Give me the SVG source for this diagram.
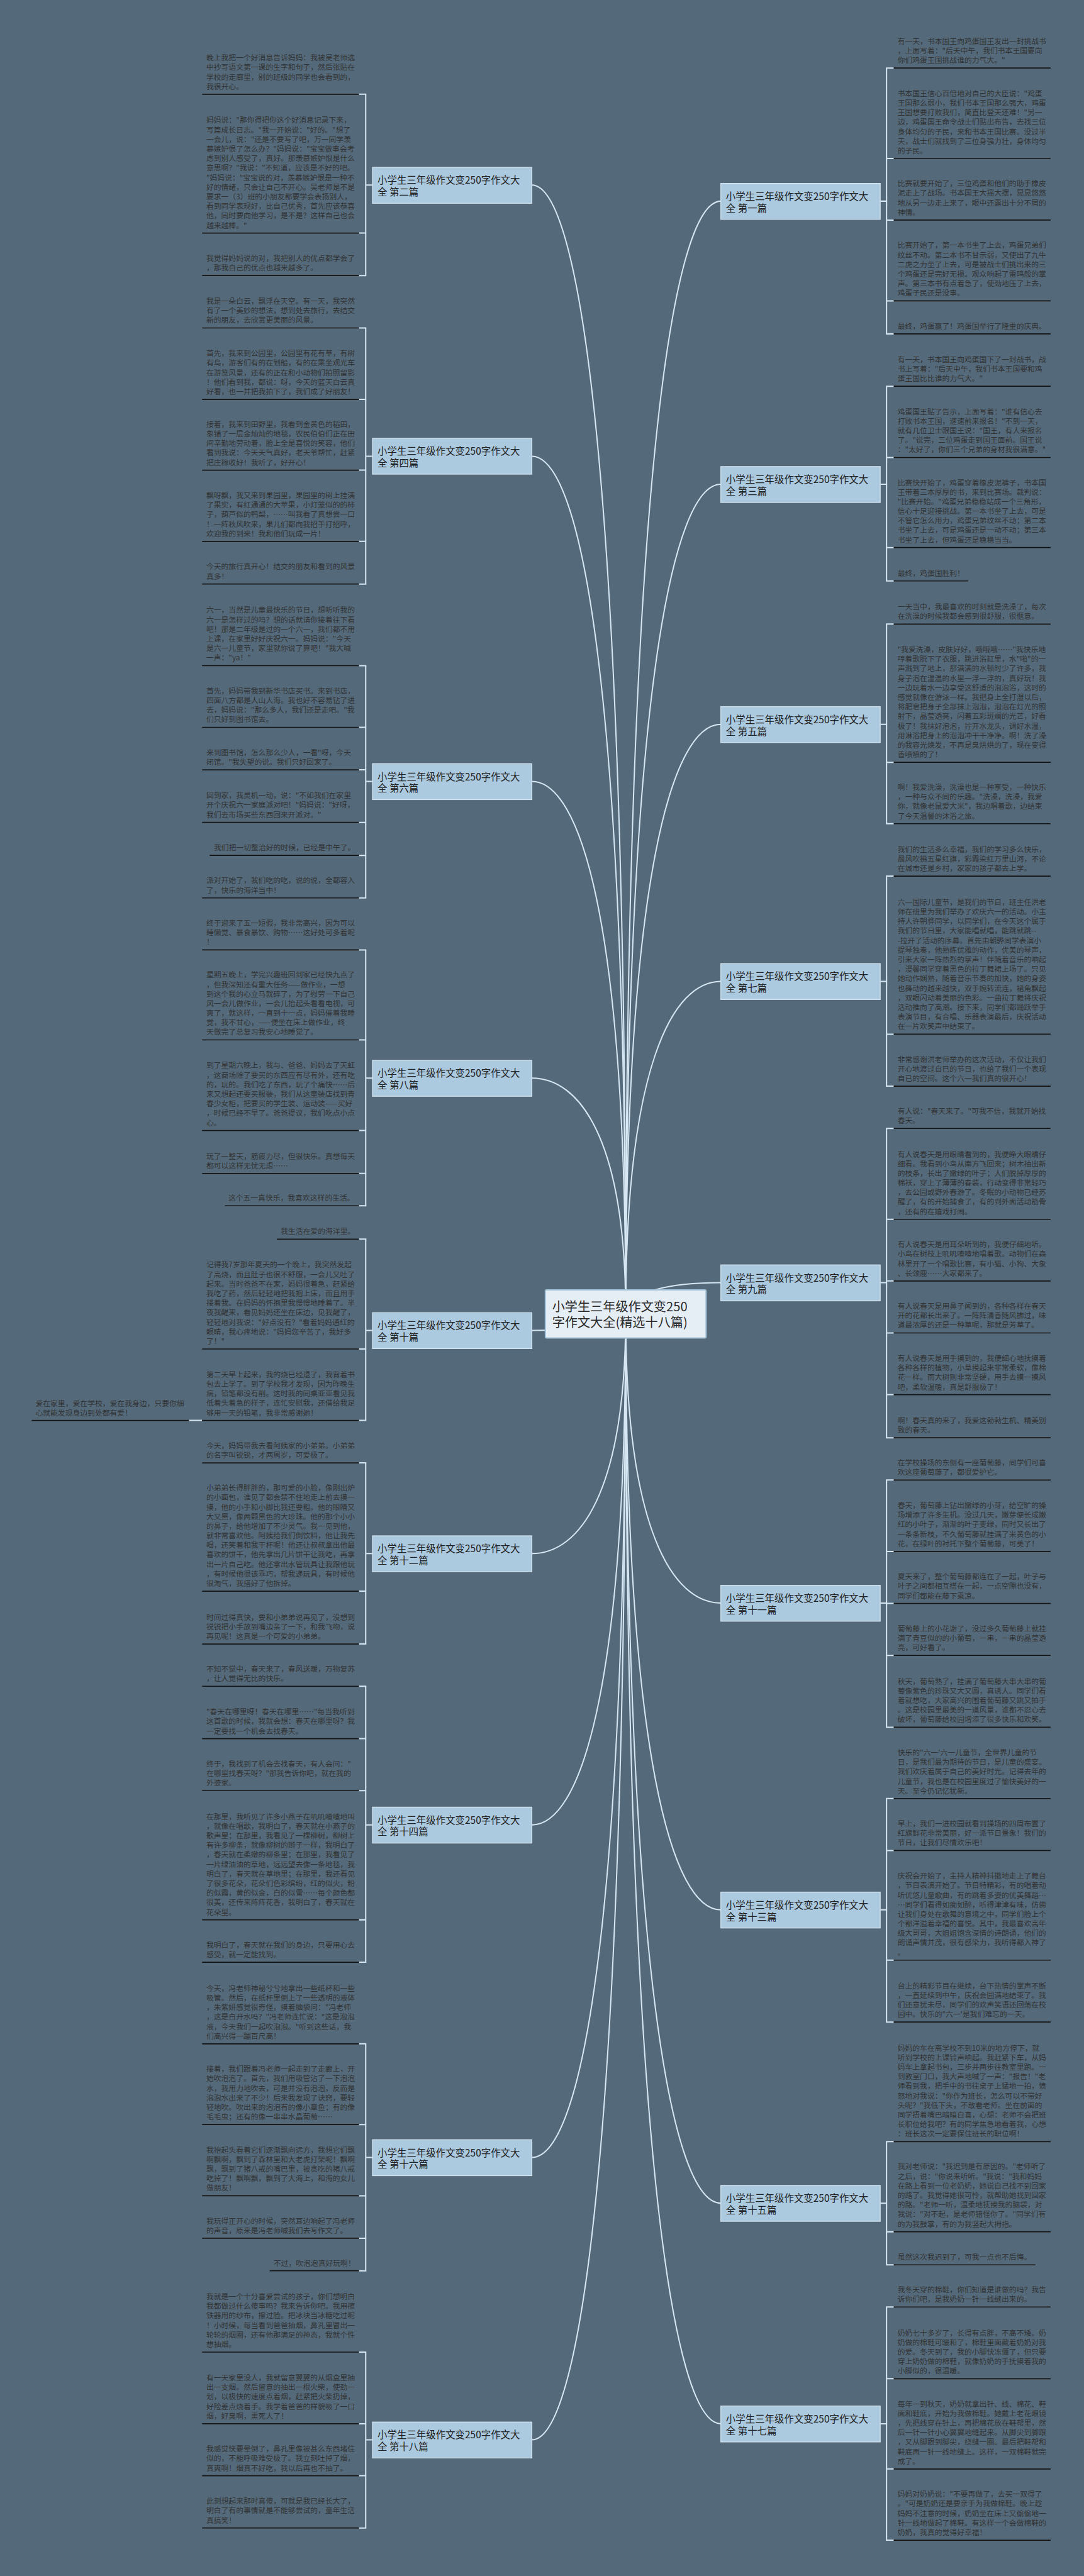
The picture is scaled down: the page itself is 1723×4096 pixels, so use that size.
<svg xmlns="http://www.w3.org/2000/svg" width="1723" height="4096" viewBox="0 0 1723 4096">
<style>
.t{font-family:"Noto Sans CJK SC","Noto Sans",sans-serif;font-size:17.6px;fill:#333}
.u{stroke:#141414;stroke-width:2.5}
.c{stroke:#d6e7f3;stroke-width:3;fill:none}
.n rect{fill:#abc9df;stroke:#d3e3ef;stroke-width:2}
.nt{font-family:"Noto Sans CJK SC","Noto Sans",sans-serif;font-size:23px;fill:#222}
.rt{font-family:"Noto Sans CJK SC","Noto Sans",sans-serif;font-size:30px;fill:#2a2a2a}
</style>
<rect width="1723" height="4096" fill="#546a7b"/>
<g transform="scale(0.672)">
<g id="connectors">
<path class="c" d="M1258,438 C1369,438 1480,1106 1480,3110"/>
<path class="c" d="M1258,1079.5 C1369,1079.5 1480,1587 1480,3110"/>
<path class="c" d="M1258,1849 C1369,1849 1480,2164 1480,3110"/>
<path class="c" d="M1258,2551 C1369,2551 1480,2691 1480,3110"/>
<path class="c" d="M1258,3148 C1369,3148 1480,3138.5 1480,3110"/>
<path class="c" d="M1258,3676 C1369,3676 1480,3534.5 1480,3110"/>
<path class="c" d="M1258,4318 C1369,4318 1480,4016 1480,3110"/>
<path class="c" d="M1258,5105 C1369,5105 1480,4606 1480,3110"/>
<path class="c" d="M1258,5773 C1369,5773 1480,5107 1480,3110"/>
<path class="c" d="M1705,476 C1592.5,476 1480,1134.5 1480,3110"/>
<path class="c" d="M1705,1146 C1592.5,1146 1480,1637 1480,3110"/>
<path class="c" d="M1705,1714 C1592.5,1714 1480,2063 1480,3110"/>
<path class="c" d="M1705,2322 C1592.5,2322 1480,2519 1480,3110"/>
<path class="c" d="M1705,3035 C1592.5,3035 1480,3054 1480,3110"/>
<path class="c" d="M1705,3793 C1592.5,3793 1480,3622 1480,3110"/>
<path class="c" d="M1705,4519 C1592.5,4519 1480,4167 1480,3110"/>
<path class="c" d="M1705,5213 C1592.5,5213 1480,4687 1480,3110"/>
<path class="c" d="M1705,5735 C1592.5,5735 1480,5079 1480,3110"/>
<path class="c" d="M849,223 H865 V652 H849 M849,551.5 H865 M865,438 H881"/>
<path class="c" d="M849,776 H865 V1382 H849 M849,945 H865 M849,1112.5 H865 M849,1281 H865 M865,1079.5 H881"/>
<path class="c" d="M849,1575 H865 V2124.6 H849 M849,1721 H865 M849,1821.5 H865 M849,1946 H865 M849,2024 H865 M865,1849 H881"/>
<path class="c" d="M849,2247.6 H865 V2853 H849 M849,2460.6 H865 M849,2675 H865 M849,2776.5 H865 M865,2551 H881"/>
<path class="c" d="M849,2932 H865 V3361 H849 M849,3192 H865 M865,3148 H881 M447,3361 H478"/>
<path class="c" d="M849,3461.4 H865 V3890 H849 M849,3765 H865 M865,3676 H881"/>
<path class="c" d="M849,3990 H865 V4643 H849 M849,4114 H865 M849,4237 H865 M849,4542.6 H865 M865,4318 H881"/>
<path class="c" d="M849,4836 H865 V5373 H849 M849,5027 H865 M849,5195.6 H865 M849,5296 H865 M865,5105 H881"/>
<path class="c" d="M849,5565.5 H865 V5981.6 H849 M849,5735 H865 M849,5858 H865 M865,5773 H881"/>
<path class="c" d="M2114,161 H2097 V790 H2114 M2097,375 H2114 M2097,520.7 H2114 M2097,712 H2114 M2082,476 H2097"/>
<path class="c" d="M2114,914 H2097 V1374.6 H2114 M2097,1082.6 H2114 M2097,1295.7 H2114 M2082,1146 H2097"/>
<path class="c" d="M2114,1476.7 H2097 V1949 H2114 M2097,1803.8 H2114 M2082,1714 H2097"/>
<path class="c" d="M2114,2073 H2097 V2570 H2114 M2097,2447 H2114 M2082,2322 H2097"/>
<path class="c" d="M2114,2670 H2097 V3402 H2114 M2097,2885 H2114 M2097,3031 H2114 M2097,3154 H2114 M2097,3300 H2114 M2082,3035 H2097"/>
<path class="c" d="M2114,3502 H2097 V4087 H2114 M2097,3671 H2114 M2097,3794 H2114 M2097,3917 H2114 M2082,3793 H2097"/>
<path class="c" d="M2114,4255.6 H2097 V4784.5 H2114 M2097,4378.6 H2114 M2097,4638 H2114 M2082,4519 H2097"/>
<path class="c" d="M2114,5067.5 H2097 V5359 H2114 M2097,5280.7 H2114 M2082,5213 H2097"/>
<path class="c" d="M2114,5458.7 H2097 V6010.5 H2114 M2097,5628.5 H2114 M2097,5842 H2114 M2082,5735 H2097"/>
</g>
<g id="root"><rect x="1290" y="3052" width="380" height="114" rx="3" fill="#e6eef5" stroke="#a3c2d8" stroke-width="3"/><text class="rt" x="1306" y="3102">小学生三年级作文变250</text><text class="rt" x="1306" y="3140">字作文大全(精选十八篇)</text></g>
<g id="b2" class="n"><rect x="881" y="396" width="377" height="85"/><text class="nt" x="893" y="435">小学生三年级作文变250字作文大</text><text class="nt" x="893" y="463">全 第二篇</text></g>
<g id="b4" class="n"><rect x="881" y="1037" width="377" height="85"/><text class="nt" x="893" y="1076">小学生三年级作文变250字作文大</text><text class="nt" x="893" y="1104">全 第四篇</text></g>
<g id="b6" class="n"><rect x="881" y="1807" width="377" height="85"/><text class="nt" x="893" y="1846">小学生三年级作文变250字作文大</text><text class="nt" x="893" y="1874">全 第六篇</text></g>
<g id="b8" class="n"><rect x="881" y="2509" width="377" height="85"/><text class="nt" x="893" y="2548">小学生三年级作文变250字作文大</text><text class="nt" x="893" y="2576">全 第八篇</text></g>
<g id="b10" class="n"><rect x="881" y="3106" width="377" height="85"/><text class="nt" x="893" y="3145">小学生三年级作文变250字作文大</text><text class="nt" x="893" y="3173">全 第十篇</text></g>
<g id="b12" class="n"><rect x="881" y="3634" width="377" height="85"/><text class="nt" x="893" y="3673">小学生三年级作文变250字作文大</text><text class="nt" x="893" y="3701">全 第十二篇</text></g>
<g id="b14" class="n"><rect x="881" y="4276" width="377" height="85"/><text class="nt" x="893" y="4315">小学生三年级作文变250字作文大</text><text class="nt" x="893" y="4343">全 第十四篇</text></g>
<g id="b16" class="n"><rect x="881" y="5063" width="377" height="85"/><text class="nt" x="893" y="5102">小学生三年级作文变250字作文大</text><text class="nt" x="893" y="5130">全 第十六篇</text></g>
<g id="b18" class="n"><rect x="881" y="5731" width="377" height="85"/><text class="nt" x="893" y="5770">小学生三年级作文变250字作文大</text><text class="nt" x="893" y="5798">全 第十八篇</text></g>
<g id="b1" class="n"><rect x="1705" y="434" width="377" height="85"/><text class="nt" x="1717" y="473">小学生三年级作文变250字作文大</text><text class="nt" x="1717" y="501">全 第一篇</text></g>
<g id="b3" class="n"><rect x="1705" y="1104" width="377" height="85"/><text class="nt" x="1717" y="1143">小学生三年级作文变250字作文大</text><text class="nt" x="1717" y="1171">全 第三篇</text></g>
<g id="b5" class="n"><rect x="1705" y="1672" width="377" height="85"/><text class="nt" x="1717" y="1711">小学生三年级作文变250字作文大</text><text class="nt" x="1717" y="1739">全 第五篇</text></g>
<g id="b7" class="n"><rect x="1705" y="2280" width="377" height="85"/><text class="nt" x="1717" y="2319">小学生三年级作文变250字作文大</text><text class="nt" x="1717" y="2347">全 第七篇</text></g>
<g id="b9" class="n"><rect x="1705" y="2993" width="377" height="85"/><text class="nt" x="1717" y="3032">小学生三年级作文变250字作文大</text><text class="nt" x="1717" y="3060">全 第九篇</text></g>
<g id="b11" class="n"><rect x="1705" y="3751" width="377" height="85"/><text class="nt" x="1717" y="3790">小学生三年级作文变250字作文大</text><text class="nt" x="1717" y="3818">全 第十一篇</text></g>
<g id="b13" class="n"><rect x="1705" y="4477" width="377" height="85"/><text class="nt" x="1717" y="4516">小学生三年级作文变250字作文大</text><text class="nt" x="1717" y="4544">全 第十三篇</text></g>
<g id="b15" class="n"><rect x="1705" y="5171" width="377" height="85"/><text class="nt" x="1717" y="5210">小学生三年级作文变250字作文大</text><text class="nt" x="1717" y="5238">全 第十五篇</text></g>
<g id="b17" class="n"><rect x="1705" y="5693" width="377" height="85"/><text class="nt" x="1717" y="5732">小学生三年级作文变250字作文大</text><text class="nt" x="1717" y="5760">全 第十七篇</text></g>

<g id="L2a"><text class="t" x="488" y="143.2"><tspan x="488">晚上我把一个好消息告诉妈妈：我被吴老师选</tspan><tspan x="488" dy="22.6">中抄写语文第一课的生字和句子，然后张贴在</tspan><tspan x="488" dy="22.6">学校的走廊里，别的班级的同学也会看到的，</tspan><tspan x="488" dy="22.6">我很开心。</tspan></text><line class="u" x1="478" y1="223" x2="849" y2="223"/></g>
<g id="L2b"><text class="t" x="488" y="290.9"><tspan x="488">妈妈说："那你得把你这个好消息记录下来，</tspan><tspan x="488" dy="22.6">写篇成长日志。"我一开始说："好的。"想了</tspan><tspan x="488" dy="22.6">一会儿，说："还是不要写了吧，万一同学羡</tspan><tspan x="488" dy="22.6">慕嫉妒恨了怎么办？"妈妈说："宝宝做事会考</tspan><tspan x="488" dy="22.6">虑到别人感受了，真好。那羡慕嫉妒恨是什么</tspan><tspan x="488" dy="22.6">意思啊？"我说："不知道，应该是不好的吧。</tspan><tspan x="488" dy="22.6">"妈妈说："宝宝说的对，羡慕嫉妒恨是一种不</tspan><tspan x="488" dy="22.6">好的情绪，只会让自己不开心。吴老师是不是</tspan><tspan x="488" dy="22.6">要求一（3）班的小朋友都要学会表扬别人，</tspan><tspan x="488" dy="22.6">看到同学表现好，比自己优秀，首先应该恭喜</tspan><tspan x="488" dy="22.6">他，同时要向他学习，是不是？这样自己也会</tspan><tspan x="488" dy="22.6">越来越棒。"</tspan></text><line class="u" x1="478" y1="551.5" x2="849" y2="551.5"/></g>
<g id="L2c"><text class="t" x="488" y="617.4"><tspan x="488">我觉得妈妈说的对，我把别人的优点都学会了</tspan><tspan x="488" dy="22.6">，那我自己的优点也越来越多了。</tspan></text><line class="u" x1="478" y1="652" x2="849" y2="652"/></g>

<g id="L4a"><text class="t" x="488" y="718.8"><tspan x="488">我是一朵白云，飘浮在天空。有一天，我突然</tspan><tspan x="488" dy="22.6">有了一个美妙的想法，想到处去旅行，去结交</tspan><tspan x="488" dy="22.6">新的朋友，去欣赏更美丽的风景。</tspan></text><line class="u" x1="478" y1="776" x2="849" y2="776"/></g>
<g id="L4b"><text class="t" x="488" y="842.6"><tspan x="488">首先，我来到公园里，公园里有花有草，有树</tspan><tspan x="488" dy="22.6">有鸟，游客们有的在划船，有的在乘坐观光车</tspan><tspan x="488" dy="22.6">在游览风景，还有的正在和小动物们拍照留影</tspan><tspan x="488" dy="22.6">！他们看到我，都说：呀，今天的蓝天白云真</tspan><tspan x="488" dy="22.6">好看，也一并把我拍下了，我们成了好朋友！</tspan></text><line class="u" x1="478" y1="945" x2="849" y2="945"/></g>
<g id="L4c"><text class="t" x="488" y="1010.1"><tspan x="488">接着，我来到田野里，我看到金黄色的稻田，</tspan><tspan x="488" dy="22.6">象铺了一层金灿灿的地毯，农民伯伯们正在田</tspan><tspan x="488" dy="22.6">间辛勤地劳动着，脸上全是喜悦的笑容，他们</tspan><tspan x="488" dy="22.6">看到我说：今天天气真好，老天爷帮忙，赶紧</tspan><tspan x="488" dy="22.6">把庄稼收好！我听了，好开心！</tspan></text><line class="u" x1="478" y1="1112.5" x2="849" y2="1112.5"/></g>
<g id="L4d"><text class="t" x="488" y="1178.6"><tspan x="488">飘呀飘，我又来到果园里，果园里的树上挂满</tspan><tspan x="488" dy="22.6">了果实，有红通通的大苹果，小灯笼似的的柿</tspan><tspan x="488" dy="22.6">子，葫芦似的鸭梨，……叫我看了真想尝一口</tspan><tspan x="488" dy="22.6">！一阵秋风吹来，果儿们都向我招手打招呼，</tspan><tspan x="488" dy="22.6">欢迎我的到来！我和他们玩成一片！</tspan></text><line class="u" x1="478" y1="1281" x2="849" y2="1281"/></g>
<g id="L4e"><text class="t" x="488" y="1347.4"><tspan x="488">今天的旅行真开心！结交的朋友和看到的风景</tspan><tspan x="488" dy="22.6">真多！</tspan></text><line class="u" x1="478" y1="1382" x2="849" y2="1382"/></g>

<g id="L6a"><text class="t" x="488" y="1450"><tspan x="488">六一，当然是儿童最快乐的节日，想听听我的</tspan><tspan x="488" dy="22.6">六一是怎样过的吗？想的话就请你接着往下看</tspan><tspan x="488" dy="22.6">吧！那是二年级是过的一个六一，我们都不用</tspan><tspan x="488" dy="22.6">上课，在家里好好庆祝六一。妈妈说："今天</tspan><tspan x="488" dy="22.6">是六一儿童节，家里就你说了算吧！"我大喊</tspan><tspan x="488" dy="22.6">一声："ya！"</tspan></text><line class="u" x1="478" y1="1575" x2="849" y2="1575"/></g>
<g id="L6b"><text class="t" x="488" y="1641.2"><tspan x="488">首先，妈妈带我到新华书店买书。来到书店，</tspan><tspan x="488" dy="22.6">四面八方都是人山人海。我也好不容易钻了进</tspan><tspan x="488" dy="22.6">去，妈妈说："那么多人，我们还是走吧。"我</tspan><tspan x="488" dy="22.6">们只好到图书馆去。</tspan></text><line class="u" x1="478" y1="1721" x2="849" y2="1721"/></g>
<g id="L6c"><text class="t" x="488" y="1786.9"><tspan x="488">来到图书馆，怎么那么少人，一看"呀，今天</tspan><tspan x="488" dy="22.6">闭馆。"我失望的说。我们只好回家了。</tspan></text><line class="u" x1="478" y1="1821.5" x2="849" y2="1821.5"/></g>
<g id="L6d"><text class="t" x="488" y="1888.8"><tspan x="488">回到家，我灵机一动，说："不如我们在家里</tspan><tspan x="488" dy="22.6">开个庆祝六一家庭派对吧！"妈妈说："好呀，</tspan><tspan x="488" dy="22.6">我们去市场买些东西回来开派对。"</tspan></text><line class="u" x1="478" y1="1946" x2="849" y2="1946"/></g>
<g id="L6e"><text class="t" x="506" y="2012">我们把一切整治好的时候，已经是中午了。</text><line class="u" x1="496" y1="2024" x2="849" y2="2024"/></g>
<g id="L6f"><text class="t" x="488" y="2090"><tspan x="488">派对开始了，我们吃的吃，说的说，全都容入</tspan><tspan x="488" dy="22.6">了，快乐的海洋当中！</tspan></text><line class="u" x1="478" y1="2124.6" x2="849" y2="2124.6"/></g>

<g id="L8a"><text class="t" x="488" y="2190.4"><tspan x="488">终于迎来了五一短假，我非常高兴，因为可以</tspan><tspan x="488" dy="22.6">睡懒觉、暴食暴饮、购物……这好处可多着呢</tspan><tspan x="488" dy="22.6">！</tspan></text><line class="u" x1="478" y1="2247.6" x2="849" y2="2247.6"/></g>
<g id="L8b"><text class="t" x="488" y="2313"><tspan x="488">星期五晚上，学完兴趣班回到家已经快九点了</tspan><tspan x="488" dy="22.6">，但我深知还有重大任务——做作业，一想</tspan><tspan x="488" dy="22.6">到这个我的心立马就碎了，为了慰劳一下自己</tspan><tspan x="488" dy="22.6">风一会儿做作业，一会儿抬起头看看电视，可</tspan><tspan x="488" dy="22.6">爽了，就这样，一直到十一点，妈妈催着我睡</tspan><tspan x="488" dy="22.6">觉，我不甘心，——便坐在床上做作业，终</tspan><tspan x="488" dy="22.6">天做完了总复习我安心地睡觉了。</tspan></text><line class="u" x1="478" y1="2460.6" x2="849" y2="2460.6"/></g>
<g id="L8c"><text class="t" x="488" y="2527.4"><tspan x="488">到了星期六晚上，我与、爸爸、妈妈去了天虹</tspan><tspan x="488" dy="22.6">，这商场除了要买的东西应有尽有外，还有吃</tspan><tspan x="488" dy="22.6">的，玩的。我们吃了东西，玩了个痛快……后</tspan><tspan x="488" dy="22.6">来又想起还要买服装，我们从这童装店找到青</tspan><tspan x="488" dy="22.6">春少女柜，把要买的学生装、运动装——买好</tspan><tspan x="488" dy="22.6">，时候已经不早了。爸爸提议，我们吃点小点</tspan><tspan x="488" dy="22.6">心。</tspan></text><line class="u" x1="478" y1="2675" x2="849" y2="2675"/></g>
<g id="L8d"><text class="t" x="488" y="2741.9"><tspan x="488">玩了一整天，筋疲力尽，但很快乐。真想每天</tspan><tspan x="488" dy="22.6">都可以这样无忧无虑……</tspan></text><line class="u" x1="478" y1="2776.5" x2="849" y2="2776.5"/></g>
<g id="L8e"><text class="t" x="540" y="2841">这个五一真快乐，我喜欢这样的生活。</text><line class="u" x1="532" y1="2853" x2="849" y2="2853"/></g>

<g id="L10a"><text class="t" x="664" y="2920">我生活在爱的海洋里。</text><line class="u" x1="655" y1="2932" x2="849" y2="2932"/></g>
<g id="L10b"><text class="t" x="488" y="2999.2"><tspan x="488">记得我7岁那年夏天的一个晚上，我突然发起</tspan><tspan x="488" dy="22.6">了高烧，而且肚子也很不舒服，一会儿又吐了</tspan><tspan x="488" dy="22.6">起来。当时爸爸不在家，妈妈很着急，赶紧给</tspan><tspan x="488" dy="22.6">我吃了药，然后轻轻地把我抱上床，而且用手</tspan><tspan x="488" dy="22.6">搂着我。在妈妈的怀抱里我慢慢地睡着了。半</tspan><tspan x="488" dy="22.6">夜我醒来，看见妈妈还坐在床边，见我醒了，</tspan><tspan x="488" dy="22.6">轻轻地对我说："好点没有？"看着妈妈通红的</tspan><tspan x="488" dy="22.6">眼睛，我心疼地说："妈妈您辛苦了，我好多</tspan><tspan x="488" dy="22.6">了！"</tspan></text><line class="u" x1="478" y1="3192" x2="849" y2="3192"/></g>
<g id="L10c"><text class="t" x="488" y="3258.6"><tspan x="488">第二天早上起来，我的烧已经退了，我背着书</tspan><tspan x="488" dy="22.6">包去上学了。到了学校我才发现，因为昨晚生</tspan><tspan x="488" dy="22.6">病，铅笔都没有削。这时我的同桌亚亚看见我</tspan><tspan x="488" dy="22.6">低着头着急的样子，连忙安慰我，还借给我足</tspan><tspan x="488" dy="22.6">够用一天的铅笔，我非常感谢她！</tspan></text><line class="u" x1="478" y1="3361" x2="849" y2="3361"/></g>
<g id="L10c1"><text class="t" x="84" y="3327"><tspan x="84">爱在家里，爱在学校，爱在我身边，只要你细</tspan><tspan x="84" dy="22.6">心就能发现身边到处都有爱！</tspan></text><line class="u" x1="75" y1="3361" x2="447" y2="3361"/></g>

<g id="L12a"><text class="t" x="488" y="3426.8"><tspan x="488">今天，妈妈带我去看阿姨家的小弟弟。小弟弟</tspan><tspan x="488" dy="22.6">的名字叫锐锐，才两周岁，可爱极了。</tspan></text><line class="u" x1="478" y1="3461.4" x2="849" y2="3461.4"/></g>
<g id="L12b"><text class="t" x="488" y="3527"><tspan x="488">小弟弟长得胖胖的，那可爱的小脸，像刚出炉</tspan><tspan x="488" dy="22.6">的小面包，谁见了都会禁不住地走上前去摸一</tspan><tspan x="488" dy="22.6">摸，他的小手和小脚比我还要粗。他的眼睛又</tspan><tspan x="488" dy="22.6">大又黑，像两颗黑色的大珍珠。他的那个小小</tspan><tspan x="488" dy="22.6">的鼻子，给他增加了不少灵气。我一见到他，</tspan><tspan x="488" dy="22.6">就非常喜欢他。阿姨给我们倒饮料，他让我先</tspan><tspan x="488" dy="22.6">喝，还笑着和我干杯呢！他还让叔叔拿出他最</tspan><tspan x="488" dy="22.6">喜欢的饼干，他先拿出几片饼干让我吃，再拿</tspan><tspan x="488" dy="22.6">出一片自己吃。他还拿出水管玩具让我跟他玩</tspan><tspan x="488" dy="22.6">，有时候他很该乖巧，帮我递玩具，有时候他</tspan><tspan x="488" dy="22.6">很淘气，我搭好了他拆掉。</tspan></text><line class="u" x1="478" y1="3765" x2="849" y2="3765"/></g>
<g id="L12c"><text class="t" x="488" y="3832.8"><tspan x="488">时间过得真快，要和小弟弟说再见了，没想到</tspan><tspan x="488" dy="22.6">锐锐把小手放到嘴边亲了一下，和我飞吻，说</tspan><tspan x="488" dy="22.6">再见呢！这真是一个可爱的小弟弟。</tspan></text><line class="u" x1="478" y1="3890" x2="849" y2="3890"/></g>

<g id="L14a"><text class="t" x="488" y="3955.4"><tspan x="488">不知不觉中，春天来了，春风送暖，万物复苏</tspan><tspan x="488" dy="22.6">，让人觉得无比的快乐。</tspan></text><line class="u" x1="478" y1="3990" x2="849" y2="3990"/></g>
<g id="L14b"><text class="t" x="488" y="4056.8"><tspan x="488">"春天在哪里呀！春天在哪里……"每当我听到</tspan><tspan x="488" dy="22.6">这首歌的时候，我就会想：春天在哪里呀？我</tspan><tspan x="488" dy="22.6">一定要找一个机会去找春天。</tspan></text><line class="u" x1="478" y1="4114" x2="849" y2="4114"/></g>
<g id="L14c"><text class="t" x="488" y="4179.8"><tspan x="488">终于，我找到了机会去找春天，有人会问："</tspan><tspan x="488" dy="22.6">在哪里找春天呀？"那我告诉你吧，就在我的</tspan><tspan x="488" dy="22.6">外婆家。</tspan></text><line class="u" x1="478" y1="4237" x2="849" y2="4237"/></g>
<g id="L14d"><text class="t" x="488" y="4304.6"><tspan x="488">在那里，我听见了许多小燕子在叽叽喳喳地叫</tspan><tspan x="488" dy="22.6">，就像在唱歌，我明白了，春天就在小燕子的</tspan><tspan x="488" dy="22.6">歌声里；在那里，我看见了一棵柳树，柳树上</tspan><tspan x="488" dy="22.6">有许多柳条，就像柳树的辫子一样，我明白了</tspan><tspan x="488" dy="22.6">，春天就在柔嫩的柳条里；在那里，我看见了</tspan><tspan x="488" dy="22.6">一片绿油油的草地，远远望去像一条地毯，我</tspan><tspan x="488" dy="22.6">明白了，春天就在草地里；在那里，我还看见</tspan><tspan x="488" dy="22.6">了很多花朵，花朵们色彩缤纷，红的似火，粉</tspan><tspan x="488" dy="22.6">的似霞，黄的似金，白的似雪……每个颜色都</tspan><tspan x="488" dy="22.6">很美，还传来阵阵花香，我明白了，春天就在</tspan><tspan x="488" dy="22.6">花朵里。</tspan></text><line class="u" x1="478" y1="4542.6" x2="849" y2="4542.6"/></g>
<g id="L14e"><text class="t" x="488" y="4608.4"><tspan x="488">我明白了，春天就在我们的身边，只要用心去</tspan><tspan x="488" dy="22.6">感受，就一定能找到。</tspan></text><line class="u" x1="478" y1="4643" x2="849" y2="4643"/></g>

<g id="L16a"><text class="t" x="488" y="4711"><tspan x="488">今天，冯老师神秘兮兮地拿出一些纸杯和一些</tspan><tspan x="488" dy="22.6">吸管。然后，在纸杯里倒上了一些透明的液体</tspan><tspan x="488" dy="22.6">，朱紫妍感觉很奇怪，摸着脑袋问："冯老师</tspan><tspan x="488" dy="22.6">，这是白开水吗？"冯老师连忙说："这是泡泡</tspan><tspan x="488" dy="22.6">液，今天我们一起吹泡泡。"听到这些话，我</tspan><tspan x="488" dy="22.6">们高兴得一蹦百尺高！</tspan></text><line class="u" x1="478" y1="4836" x2="849" y2="4836"/></g>
<g id="L16b"><text class="t" x="488" y="4902"><tspan x="488">接着，我们跟着冯老师一起走到了走廊上，开</tspan><tspan x="488" dy="22.6">始吹泡泡了。首先，我们用吸管沾了一下泡泡</tspan><tspan x="488" dy="22.6">水，我用力地吹去，可是并没有泡泡，反而是</tspan><tspan x="488" dy="22.6">泡泡水出来了不少！后来我发现了诀窍，要轻</tspan><tspan x="488" dy="22.6">轻地吹。吹出来的泡泡有的像小章鱼；有的像</tspan><tspan x="488" dy="22.6">毛毛虫；还有的像一串串水晶葡萄……</tspan></text><line class="u" x1="478" y1="5027" x2="849" y2="5027"/></g>
<g id="L16c"><text class="t" x="488" y="5093.2"><tspan x="488">我抬起头看着它们逐渐飘向远方，我想它们飘</tspan><tspan x="488" dy="22.6">啊飘啊，飘到了森林里和大老虎打架呢！飘啊</tspan><tspan x="488" dy="22.6">飘，飘到了猪八戒的嘴巴里，被贪吃的猪八戒</tspan><tspan x="488" dy="22.6">吃掉了！飘啊飘，飘到了大海上，和海的女儿</tspan><tspan x="488" dy="22.6">做朋友！</tspan></text><line class="u" x1="478" y1="5195.6" x2="849" y2="5195.6"/></g>
<g id="L16d"><text class="t" x="488" y="5261.4"><tspan x="488">我玩得正开心的时候，突然耳边响起了冯老师</tspan><tspan x="488" dy="22.6">的声音，原来是冯老师喊我们去写作文了。</tspan></text><line class="u" x1="478" y1="5296" x2="849" y2="5296"/></g>
<g id="L16e"><text class="t" x="647" y="5361">不过，吹泡泡真好玩啊！</text><line class="u" x1="638" y1="5373" x2="849" y2="5373"/></g>

<g id="L18a"><text class="t" x="488" y="5440.5"><tspan x="488">我就是一个十分喜爱尝试的孩子，你们想明白</tspan><tspan x="488" dy="22.6">我都做过什么傻事吗？我来告诉你吧。我用擦</tspan><tspan x="488" dy="22.6">铁器用的纱布，擦过脸。把冰块当冰糖吃过呢</tspan><tspan x="488" dy="22.6">！小时候，每当看到爸爸抽烟，鼻孔里冒出一</tspan><tspan x="488" dy="22.6">轮轮的烟圈，还有他那满足的神态，我就个性</tspan><tspan x="488" dy="22.6">想抽烟。</tspan></text><line class="u" x1="478" y1="5565.5" x2="849" y2="5565.5"/></g>
<g id="L18b"><text class="t" x="488" y="5632.6"><tspan x="488">有一天家里没人，我就留意翼翼的从烟盒里抽</tspan><tspan x="488" dy="22.6">出一支烟。然后留意的抽出一根火柴，使劲一</tspan><tspan x="488" dy="22.6">划，以极快的速度点着烟，赶紧把火柴扔掉，</tspan><tspan x="488" dy="22.6">好险差点烧着手。我学着爸爸的样貌吸了一口</tspan><tspan x="488" dy="22.6">烟，好臭啊，熏死人了！</tspan></text><line class="u" x1="478" y1="5735" x2="849" y2="5735"/></g>
<g id="L18c"><text class="t" x="488" y="5800.8"><tspan x="488">我感觉快要晕倒了，鼻孔里像被甚么东西堵住</tspan><tspan x="488" dy="22.6">似的，不能呼吸难受极了。我立刻吐掉了烟，</tspan><tspan x="488" dy="22.6">真爽啊！烟真不好吃，我以后再也不抽了。</tspan></text><line class="u" x1="478" y1="5858" x2="849" y2="5858"/></g>
<g id="L18d"><text class="t" x="488" y="5924.4"><tspan x="488">此刻想起来那时真傻，可就是我已经长大了，</tspan><tspan x="488" dy="22.6">明白了有的事情就是不能够尝试的，童年生活</tspan><tspan x="488" dy="22.6">真搞笑！</tspan></text><line class="u" x1="478" y1="5981.6" x2="849" y2="5981.6"/></g>

<g id="R1a"><text class="t" x="2123" y="103.8"><tspan x="2123">有一天，书本国王向鸡蛋国王发出一封挑战书</tspan><tspan x="2123" dy="22.6">，上面写着："后天中午，我们书本王国要向</tspan><tspan x="2123" dy="22.6">你们鸡蛋王国挑战谁的力气大。"</tspan></text><line class="u" x1="2114" y1="161" x2="2485" y2="161"/></g>
<g id="R1b"><text class="t" x="2123" y="227.4"><tspan x="2123">书本国王信心百倍地对自己的大臣说："鸡蛋</tspan><tspan x="2123" dy="22.6">王国那么弱小，我们书本王国那么强大，鸡蛋</tspan><tspan x="2123" dy="22.6">王国想要打败我们，简直比登天还难！"另一</tspan><tspan x="2123" dy="22.6">边，鸡蛋国王命令战士们贴出布告，去找三位</tspan><tspan x="2123" dy="22.6">身体均匀的子民，来和书本王国比赛。没过半</tspan><tspan x="2123" dy="22.6">天，战士们就找到了三位身强力壮，身体均匀</tspan><tspan x="2123" dy="22.6">的子民。</tspan></text><line class="u" x1="2114" y1="375" x2="2485" y2="375"/></g>
<g id="R1c"><text class="t" x="2123" y="440.9"><tspan x="2123">比赛就要开始了，三位鸡蛋和他们的助手橡皮</tspan><tspan x="2123" dy="22.6">泥走上了战场。书本国王大摇大摆，晃晃悠悠</tspan><tspan x="2123" dy="22.6">地从另一边走上来了，眼中还露出十分不屑的</tspan><tspan x="2123" dy="22.6">神情。</tspan></text><line class="u" x1="2114" y1="520.7" x2="2485" y2="520.7"/></g>
<g id="R1d"><text class="t" x="2123" y="587"><tspan x="2123">比赛开始了，第一本书坐了上去，鸡蛋兄弟们</tspan><tspan x="2123" dy="22.6">纹丝不动。第二本书不甘示弱，又使出了九牛</tspan><tspan x="2123" dy="22.6">二虎之力坐了上去，可是被战士们挑出来的三</tspan><tspan x="2123" dy="22.6">个鸡蛋还是完好无损。观众响起了雷鸣般的掌</tspan><tspan x="2123" dy="22.6">声。第三本书有点着急了，使劲地压了上去，</tspan><tspan x="2123" dy="22.6">鸡蛋子民还是没事。</tspan></text><line class="u" x1="2114" y1="712" x2="2485" y2="712"/></g>
<g id="R1e"><text class="t" x="2123" y="778">最终，鸡蛋赢了！鸡蛋国举行了隆重的庆典。</text><line class="u" x1="2114" y1="790" x2="2485" y2="790"/></g>

<g id="R3a"><text class="t" x="2123" y="856.8"><tspan x="2123">有一天，书本国王向鸡蛋国下了一封战书，战</tspan><tspan x="2123" dy="22.6">书上写着："后天中午，我们书本王国要和鸡</tspan><tspan x="2123" dy="22.6">蛋王国比比谁的力气大。"</tspan></text><line class="u" x1="2114" y1="914" x2="2485" y2="914"/></g>
<g id="R3b"><text class="t" x="2123" y="980.2"><tspan x="2123">鸡蛋国王贴了告示，上面写着："谁有信心去</tspan><tspan x="2123" dy="22.6">打败书本王国，速速前来报名！"不到一天，</tspan><tspan x="2123" dy="22.6">就有几位卫士跟国王说："国王，有人来报名</tspan><tspan x="2123" dy="22.6">了。"说完，三位鸡蛋走到国王面前。国王说</tspan><tspan x="2123" dy="22.6">："太好了，你们三个兄弟的身材我很满意。"</tspan></text><line class="u" x1="2114" y1="1082.6" x2="2485" y2="1082.6"/></g>
<g id="R3c"><text class="t" x="2123" y="1148.1"><tspan x="2123">比赛快开始了，鸡蛋穿着橡皮泥裤子，书本国</tspan><tspan x="2123" dy="22.6">王带着三本厚厚的书，来到比赛场。裁判说：</tspan><tspan x="2123" dy="22.6">"比赛开始。"鸡蛋兄弟稳稳站成一个三角形，</tspan><tspan x="2123" dy="22.6">信心十足迎接挑战。第一本书坐了上去，可是</tspan><tspan x="2123" dy="22.6">不管它怎么用力，鸡蛋兄弟纹丝不动；第二本</tspan><tspan x="2123" dy="22.6">书坐了上去，可是鸡蛋还是一动不动；第三本</tspan><tspan x="2123" dy="22.6">书坐了上去，但鸡蛋还是稳稳当当。</tspan></text><line class="u" x1="2114" y1="1295.7" x2="2485" y2="1295.7"/></g>
<g id="R3d"><text class="t" x="2123" y="1362.6">最终，鸡蛋国胜利！</text><line class="u" x1="2114" y1="1374.6" x2="2290" y2="1374.6"/></g>

<g id="R5a"><text class="t" x="2123" y="1442.1"><tspan x="2123">一天当中，我最喜欢的时刻就是洗澡了，每次</tspan><tspan x="2123" dy="22.6">在洗澡的时候我都会感到很舒服，很惬意。</tspan></text><line class="u" x1="2114" y1="1476.7" x2="2485" y2="1476.7"/></g>
<g id="R5b"><text class="t" x="2123" y="1543.2"><tspan x="2123">"我爱洗澡，皮肤好好，哦哦哦……"我快乐地</tspan><tspan x="2123" dy="22.6">哼着歌脱下了衣服，跳进浴缸里，水"啪"的一</tspan><tspan x="2123" dy="22.6">声溅到了地上，那满满的水顿时少了许多，我</tspan><tspan x="2123" dy="22.6">身子泡在温温的水里一浮一浮的，真好玩！我</tspan><tspan x="2123" dy="22.6">一边玩着水一边享受这舒适的泡泡浴，这时的</tspan><tspan x="2123" dy="22.6">感觉就像在游泳一样。我把身上全打湿以后，</tspan><tspan x="2123" dy="22.6">将肥皂把身子全部抹上泡泡，泡泡在灯光的照</tspan><tspan x="2123" dy="22.6">射下，晶莹透亮，闪着五彩斑斓的光芒，好看</tspan><tspan x="2123" dy="22.6">极了！我抹好泡泡，拧开水龙头，调好水温，</tspan><tspan x="2123" dy="22.6">用淋浴把身上的泡泡冲干干净净。啊！洗了澡</tspan><tspan x="2123" dy="22.6">的我容光焕发，不再是臭烘烘的了，现在变得</tspan><tspan x="2123" dy="22.6">香喷喷的了！</tspan></text><line class="u" x1="2114" y1="1803.8" x2="2485" y2="1803.8"/></g>
<g id="R5c"><text class="t" x="2123" y="1869.2"><tspan x="2123">啊！我爱洗澡，洗澡也是一种享受，一种快乐</tspan><tspan x="2123" dy="22.6">，一种与众不同的乐趣。"洗澡，洗澡，我爱</tspan><tspan x="2123" dy="22.6">你，就像老鼠爱大米"，我边唱着歌，边结束</tspan><tspan x="2123" dy="22.6">了今天温馨的沐浴之旅。</tspan></text><line class="u" x1="2114" y1="1949" x2="2485" y2="1949"/></g>

<g id="R7a"><text class="t" x="2123" y="2015.8"><tspan x="2123">我们的生活多么幸福，我们的学习多么快乐，</tspan><tspan x="2123" dy="22.6">晨风吹拂五星红旗，彩霞染红万里山河，不论</tspan><tspan x="2123" dy="22.6">在城市还是乡村，家家的孩子都去上学。</tspan></text><line class="u" x1="2114" y1="2073" x2="2485" y2="2073"/></g>
<g id="R7b"><text class="t" x="2123" y="2141.2"><tspan x="2123">六一国际儿童节，是我们的节日，班主任洪老</tspan><tspan x="2123" dy="22.6">师在班里为我们举办了欢庆六一的活动。小主</tspan><tspan x="2123" dy="22.6">持人许朝骅同学，以同学们，在今天这个属于</tspan><tspan x="2123" dy="22.6">我们的节日里，大家能唱就唱，能跳就跳--</tspan><tspan x="2123" dy="22.6">-拉开了活动的序幕。首先由朝骅同学表演小</tspan><tspan x="2123" dy="22.6">提琴独奏，他熟练优雅的动作，优美的琴声，</tspan><tspan x="2123" dy="22.6">引来大家一阵热烈的掌声！伴随着音乐的响起</tspan><tspan x="2123" dy="22.6">，漫馨同学穿着黑色的拉丁舞裙上场了。只见</tspan><tspan x="2123" dy="22.6">她动作娴熟，随着音乐节奏的加快，她的身姿</tspan><tspan x="2123" dy="22.6">也舞动的越来越快，双手婉转流连，裙角飘起</tspan><tspan x="2123" dy="22.6">，双眼闪动着美丽的色彩。一曲拉丁舞将庆祝</tspan><tspan x="2123" dy="22.6">活动推向了高潮。接下来，同学们都踊跃举手</tspan><tspan x="2123" dy="22.6">表演节目，有合唱、乐器表演最后，庆祝活动</tspan><tspan x="2123" dy="22.6">在一片欢笑声中结束了。</tspan></text><line class="u" x1="2114" y1="2447" x2="2485" y2="2447"/></g>
<g id="R7c"><text class="t" x="2123" y="2512.8"><tspan x="2123">非常感谢洪老师举办的这次活动，不仅让我们</tspan><tspan x="2123" dy="22.6">开心地渡过自已的节日，也给了我们一个表现</tspan><tspan x="2123" dy="22.6">自已的空间。这个六一我们真的很开心！</tspan></text><line class="u" x1="2114" y1="2570" x2="2485" y2="2570"/></g>

<g id="R9a"><text class="t" x="2123" y="2635.4"><tspan x="2123">有人说："春天来了。"可我不信，我就开始找</tspan><tspan x="2123" dy="22.6">春天。</tspan></text><line class="u" x1="2114" y1="2670" x2="2485" y2="2670"/></g>
<g id="R9b"><text class="t" x="2123" y="2737.4"><tspan x="2123">有人说春天是用眼睛看到的，我便睁大眼睛仔</tspan><tspan x="2123" dy="22.6">细看。我看到小鸟从南方飞回来；树木抽出新</tspan><tspan x="2123" dy="22.6">的枝条，长出了嫩绿的叶子；人们脱掉厚厚的</tspan><tspan x="2123" dy="22.6">棉袄，穿上了薄薄的春装，行动变得非常轻巧</tspan><tspan x="2123" dy="22.6">，去公园或野外春游了。冬眠的小动物已经苏</tspan><tspan x="2123" dy="22.6">醒了，有的开始捕食了，有的到外面活动筋骨</tspan><tspan x="2123" dy="22.6">，还有的在嬉戏打闹。</tspan></text><line class="u" x1="2114" y1="2885" x2="2485" y2="2885"/></g>
<g id="R9c"><text class="t" x="2123" y="2951.2"><tspan x="2123">有人说春天是用耳朵听到的，我便仔细地听。</tspan><tspan x="2123" dy="22.6">小鸟在树枝上叽叽喳喳地唱着歌。动物们在森</tspan><tspan x="2123" dy="22.6">林里开了一个唱歌比赛，有小猫、小狗、大象</tspan><tspan x="2123" dy="22.6">、长颈鹿……大家都来了。</tspan></text><line class="u" x1="2114" y1="3031" x2="2485" y2="3031"/></g>
<g id="R9d"><text class="t" x="2123" y="3096.8"><tspan x="2123">有人说春天是用鼻子闻到的，各种各样在春天</tspan><tspan x="2123" dy="22.6">开的花都长出来了。一阵阵清香随风拂过，味</tspan><tspan x="2123" dy="22.6">道最浓厚的还是一种草呢，那就是芳草了。</tspan></text><line class="u" x1="2114" y1="3154" x2="2485" y2="3154"/></g>
<g id="R9e"><text class="t" x="2123" y="3220.2"><tspan x="2123">有人说春天是用手摸到的，我便细心地抚摸着</tspan><tspan x="2123" dy="22.6">各种各样的植物，小草摸起来非常柔软，像棉</tspan><tspan x="2123" dy="22.6">花一样。而大树则非常坚硬，用手去摸一摸风</tspan><tspan x="2123" dy="22.6">吧，柔软温暖，真是舒服极了！</tspan></text><line class="u" x1="2114" y1="3300" x2="2485" y2="3300"/></g>
<g id="R9f"><text class="t" x="2123" y="3367.4"><tspan x="2123">啊！春天真的来了，我爱这勃勃生机、精美别</tspan><tspan x="2123" dy="22.6">致的春天。</tspan></text><line class="u" x1="2114" y1="3402" x2="2485" y2="3402"/></g>

<g id="R11a"><text class="t" x="2123" y="3467.4"><tspan x="2123">在学校操场的东侧有一座葡萄藤，同学们可喜</tspan><tspan x="2123" dy="22.6">欢这座葡萄藤了，都很爱护它。</tspan></text><line class="u" x1="2114" y1="3502" x2="2485" y2="3502"/></g>
<g id="R11b"><text class="t" x="2123" y="3568.6"><tspan x="2123">春天，葡萄藤上钻出嫩绿的小芽，给空旷的操</tspan><tspan x="2123" dy="22.6">场增添了许多生机。没过几天，嫩芽便长成嫩</tspan><tspan x="2123" dy="22.6">红的小叶子，渐渐的叶子变绿，同时又长出了</tspan><tspan x="2123" dy="22.6">一条条新枝，不久葡萄藤就挂满了米黄色的小</tspan><tspan x="2123" dy="22.6">花，在绿叶的衬托下整个葡萄藤，可美了！</tspan></text><line class="u" x1="2114" y1="3671" x2="2485" y2="3671"/></g>
<g id="R11c"><text class="t" x="2123" y="3736.8"><tspan x="2123">夏天来了，整个葡萄藤都连在了一起，叶子与</tspan><tspan x="2123" dy="22.6">叶子之间都相互搭在一起，一点空隙也没有，</tspan><tspan x="2123" dy="22.6">同学们都能在藤下乘凉。</tspan></text><line class="u" x1="2114" y1="3794" x2="2485" y2="3794"/></g>
<g id="R11d"><text class="t" x="2123" y="3859.8"><tspan x="2123">葡萄藤上的小花谢了，没过多久葡萄藤上就挂</tspan><tspan x="2123" dy="22.6">满了青豆似的的小葡萄，一串，一串的晶莹透</tspan><tspan x="2123" dy="22.6">亮，可好看了。</tspan></text><line class="u" x1="2114" y1="3917" x2="2485" y2="3917"/></g>
<g id="R11e"><text class="t" x="2123" y="3984.6"><tspan x="2123">秋天，葡萄熟了，挂满了葡萄藤大串大串的葡</tspan><tspan x="2123" dy="22.6">萄像紫色的珍珠又大又圆，真诱人。同学们看</tspan><tspan x="2123" dy="22.6">着就想吃，大家高兴的围着葡萄藤又跳又拍手</tspan><tspan x="2123" dy="22.6">。这是校园里最美的一道风景，谁都不忍心去</tspan><tspan x="2123" dy="22.6">破坏，葡萄藤给校园增添了很多快乐和欢笑。</tspan></text><line class="u" x1="2114" y1="4087" x2="2485" y2="4087"/></g>

<g id="R13a"><text class="t" x="2123" y="4153.2"><tspan x="2123">快乐的"六一'六一儿童节，全世界儿童的节</tspan><tspan x="2123" dy="22.6">日，是我们最为期待的节日，是儿童的盛宴。</tspan><tspan x="2123" dy="22.6">我们欢庆着属于自己的美好时光。记得去年的</tspan><tspan x="2123" dy="22.6">儿童节，我也是在校园里度过了愉快美好的一</tspan><tspan x="2123" dy="22.6">天。至今仍记忆犹新。</tspan></text><line class="u" x1="2114" y1="4255.6" x2="2485" y2="4255.6"/></g>
<g id="R13b"><text class="t" x="2123" y="4321.4"><tspan x="2123">早上，我们一进校园就看到操场的四周布置了</tspan><tspan x="2123" dy="22.6">红旗鲜花非常美丽，好一派节日景象！我们的</tspan><tspan x="2123" dy="22.6">节日，让我们尽情欢乐吧！</tspan></text><line class="u" x1="2114" y1="4378.6" x2="2485" y2="4378.6"/></g>
<g id="R13c"><text class="t" x="2123" y="4445.2"><tspan x="2123">庆祝会开始了，主持人精神抖擞地走上了舞台</tspan><tspan x="2123" dy="22.6">，节目表演开始了。节目特精彩，有的唱着动</tspan><tspan x="2123" dy="22.6">听优悠儿童歌曲，有的跳着多姿的优美舞蹈…</tspan><tspan x="2123" dy="22.6">…同学们看得如痴如醉，听得津津有味，仿佛</tspan><tspan x="2123" dy="22.6">让我们身处在歌舞的意境之中，同学们脸上个</tspan><tspan x="2123" dy="22.6">个都洋溢着幸福的喜悦。其中，我最喜欢高年</tspan><tspan x="2123" dy="22.6">级大哥哥，大姐姐饱含深情的诗朗诵，他们的</tspan><tspan x="2123" dy="22.6">朗诵声情并茂，很有感染力，我听得都入神了</tspan><tspan x="2123" dy="22.6">。</tspan></text><line class="u" x1="2114" y1="4638" x2="2485" y2="4638"/></g>
<g id="R13d"><text class="t" x="2123" y="4704.7"><tspan x="2123">台上的精彩节目在继续，台下热情的掌声不断</tspan><tspan x="2123" dy="22.6">，一直延续到中午，庆祝会园满地结束了。我</tspan><tspan x="2123" dy="22.6">们还意犹未尽，同学们的欢声笑语还回荡在校</tspan><tspan x="2123" dy="22.6">园中。快乐的"六一'是我们难忘的一天。</tspan></text><line class="u" x1="2114" y1="4784.5" x2="2485" y2="4784.5"/></g>

<g id="R15a"><text class="t" x="2123" y="4852.1"><tspan x="2123">妈妈的车在离学校不到10米的地方停下，就</tspan><tspan x="2123" dy="22.6">听到学校的上课铃声响起。我赶紧下车，从妈</tspan><tspan x="2123" dy="22.6">妈车上拿起书包，三步并两步往教室里跑。一</tspan><tspan x="2123" dy="22.6">到教室门口，我大声地喊了一声："报告！"老</tspan><tspan x="2123" dy="22.6">师看到我，把手中的书往桌子上猛地一拍，愤</tspan><tspan x="2123" dy="22.6">怒地对我说："你作为班长，怎么可以不带好</tspan><tspan x="2123" dy="22.6">头呢？"我低下头，不敢看老师。坐在前面的</tspan><tspan x="2123" dy="22.6">同学捂着嘴巴暗暗自喜，心想：老师不会把班</tspan><tspan x="2123" dy="22.6">长职位给我吧？有的同学焦急地看着我，心想</tspan><tspan x="2123" dy="22.6">：班长这次一定要保住班长的职位啊！</tspan></text><line class="u" x1="2114" y1="5067.5" x2="2485" y2="5067.5"/></g>
<g id="R15b"><text class="t" x="2123" y="5133.1"><tspan x="2123">我对老师说："我迟到是有原因的。"老师听了</tspan><tspan x="2123" dy="22.6">之后，说："你说来听听。"我说："我和妈妈</tspan><tspan x="2123" dy="22.6">在路上看到一位老奶奶，她说自己找不到回家</tspan><tspan x="2123" dy="22.6">的路了。我觉得她很可怜，就帮助她找到回家</tspan><tspan x="2123" dy="22.6">的路。"老师一听，温柔地抚摸我的脑袋，对</tspan><tspan x="2123" dy="22.6">我说："对不起，是老师错怪你了。"同学们有</tspan><tspan x="2123" dy="22.6">的为我鼓掌，有的为我竖起大拇指。</tspan></text><line class="u" x1="2114" y1="5280.7" x2="2485" y2="5280.7"/></g>
<g id="R15c"><text class="t" x="2123" y="5347">虽然这次我迟到了，可我一点也不后悔。</text><line class="u" x1="2114" y1="5359" x2="2449" y2="5359"/></g>

<g id="R17a"><text class="t" x="2123" y="5424.1"><tspan x="2123">我冬天穿的棉鞋，你们知道是谁做的吗？我告</tspan><tspan x="2123" dy="22.6">诉你们吧，是我奶奶一针一线缝出来的。</tspan></text><line class="u" x1="2114" y1="5458.7" x2="2485" y2="5458.7"/></g>
<g id="R17b"><text class="t" x="2123" y="5526.1"><tspan x="2123">奶奶七十多岁了，长得有点胖，不高不矮。奶</tspan><tspan x="2123" dy="22.6">奶做的棉鞋可暖和了，棉鞋里面藏着奶奶对我</tspan><tspan x="2123" dy="22.6">的爱。冬天到了，我的小脚快冻僵了，但只要</tspan><tspan x="2123" dy="22.6">穿上奶奶做的棉鞋，就像奶奶的手抚摸着我的</tspan><tspan x="2123" dy="22.6">小脚似的，很温暖。</tspan></text><line class="u" x1="2114" y1="5628.5" x2="2485" y2="5628.5"/></g>
<g id="R17c"><text class="t" x="2123" y="5694.4"><tspan x="2123">每年一到秋天，奶奶就拿出针、线、棉花、鞋</tspan><tspan x="2123" dy="22.6">面和鞋底，开始为我做棉鞋。她戴上老花眼镜</tspan><tspan x="2123" dy="22.6">，先把线穿在针上，再把棉花放在鞋帮里，然</tspan><tspan x="2123" dy="22.6">后一针一针小心翼翼地缝起来。从脚尖到脚跟</tspan><tspan x="2123" dy="22.6">，又从脚跟到脚尖，绕缝一圈。最后把鞋帮和</tspan><tspan x="2123" dy="22.6">鞋底再一针一线地缝上。这样，一双棉鞋就完</tspan><tspan x="2123" dy="22.6">成了。</tspan></text><line class="u" x1="2114" y1="5842" x2="2485" y2="5842"/></g>
<g id="R17d"><text class="t" x="2123" y="5908.1"><tspan x="2123">妈妈对奶奶说："不要再做了，去买一双得了</tspan><tspan x="2123" dy="22.6">。"可是奶奶还是要亲手为我做棉鞋。晚上趁</tspan><tspan x="2123" dy="22.6">妈妈不注意的时候，奶奶坐在床上又偷偷地一</tspan><tspan x="2123" dy="22.6">针一线地做起了棉鞋。有这样一个会做棉鞋的</tspan><tspan x="2123" dy="22.6">奶奶，我真的觉得好幸福！</tspan></text><line class="u" x1="2114" y1="6010.5" x2="2485" y2="6010.5"/></g>
</g>
</svg>
